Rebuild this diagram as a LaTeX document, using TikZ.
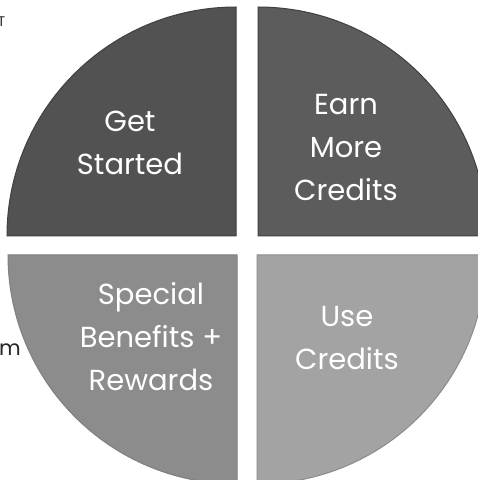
\documentclass[tikz,border=0pt]{standalone}
\usepackage{fontspec}
\setmainfont{Poppins}
\begin{document}
\begin{tikzpicture}[x=1pt,y=1pt,
  wedge/.style={draw=black!75,line width=1pt},
  label/.style={text=white,align=center,font=\fontsize{29}{43}\selectfont},
  stray/.style={text=black!85,inner sep=0pt,font=\fontsize{21}{21}\selectfont}]
\useasboundingbox (0,0) rectangle (478,480);
\fill[white] (0,0) rectangle (478,480);
% four separated quarters of the circle
\filldraw[wedge,fill=black!68] (236,244) -- ++(180:229) arc[start angle=180,end angle=90,radius=229] -- cycle;
\filldraw[wedge,fill=black!64] (258,244) -- ++(90:229) arc[start angle=90,end angle=0,radius=229] -- cycle;
\filldraw[wedge,draw=black!50,fill=black!45] (237,225) -- ++(180:229) arc[start angle=180,end angle=270,radius=229] -- cycle;
\filldraw[wedge,draw=black!45,fill=black!36] (257,225) -- ++(270:229) arc[start angle=270,end angle=360,radius=229] -- cycle;
% labels
\node[label] (start) at (130,337) {Get\\Started};
\node[label] (earn) at (346,332) {Earn\\More\\Credits};
\node[label] (special) at (151,143) {Special\\Benefits +\\Rewards};
\node[label] (use) at (347,142) {Use\\Credits};
% cut-off letters at the left margin
\node[stray] (mchar) at (10,130) {m};
\node[stray,font=\fontsize{14}{14}\selectfont] (tchar) at (1.5,458) {T};
\end{tikzpicture}
\end{document}
